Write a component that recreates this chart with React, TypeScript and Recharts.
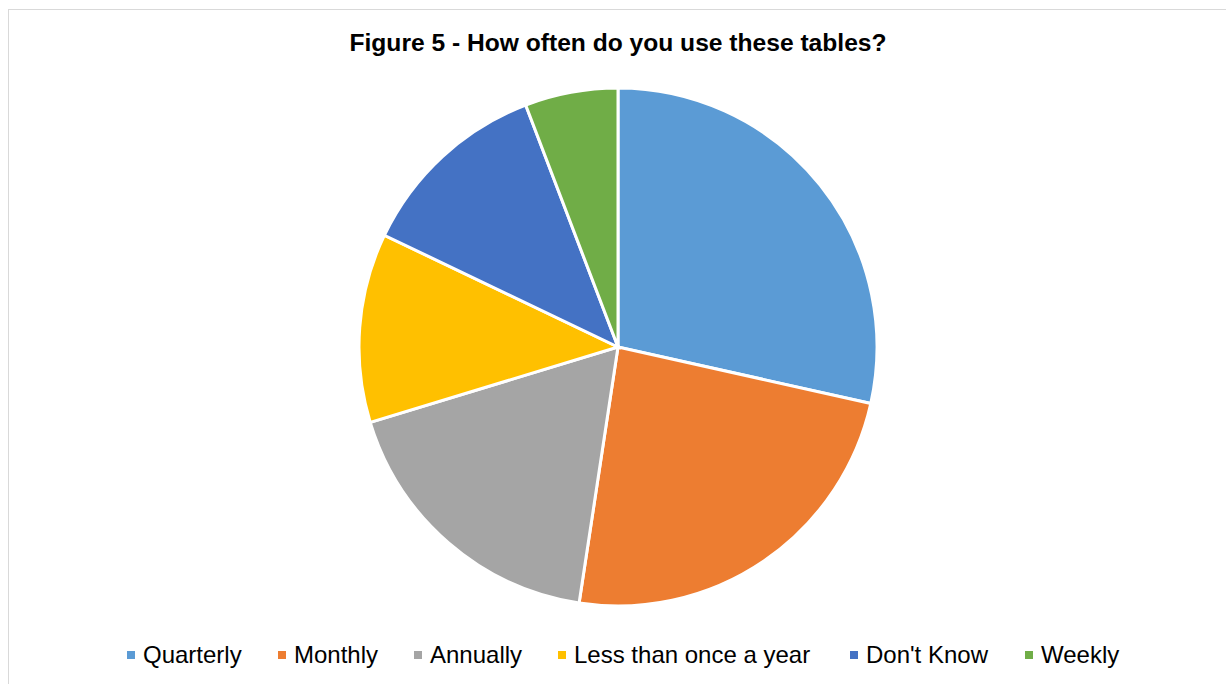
import React from "react";
import { PieChart, Pie, Cell, Legend } from "recharts";

const categories = ["Quarterly", "Monthly", "Annually", "Less than once a year", "Don't Know", "Weekly"];
const shares = [28.5, 23.9, 17.9, 11.8, 12.1, 5.8];
const colors = ["#5B9BD5", "#ED7D31", "#A5A5A5", "#FFC000", "#4472C4", "#70AD47"];
// left edge of each legend marker
const legendX = [127, 278, 414, 558, 850, 1025];

const data = categories.map((name, i) => ({ name, value: shares[i] }));

const font = "'Liberation Sans', Arial, sans-serif";

function renderLegend() {
  return (
    <div style={{ position: "relative", width: 1226, height: 28, fontFamily: font, fontSize: 24, color: "#000" }}>
      {categories.map((name, i) => (
        <div key={name} style={{ position: "absolute", left: legendX[i], top: 0, display: "flex", alignItems: "center", whiteSpace: "nowrap" }}>
          <span style={{ width: 8, height: 8, background: colors[i], display: "inline-block", marginRight: 8 }} />
          <span style={{ lineHeight: "28px" }}>{name}</span>
        </div>
      ))}
    </div>
  );
}

export default function App() {
  return (
    <div style={{ position: "absolute", left: 0, top: 0, width: 1226, height: 684, background: "#fff", overflow: "hidden" }}>
      <svg width={1226} height={684} style={{ position: "absolute", left: 0, top: 0 }}>
        <rect x={8.5} y={9.5} width={1240} height={700} fill="#fff" stroke="#D9D9D9" strokeWidth={1} />
        <text x={618} y={51} textAnchor="middle" fontFamily={font} fontSize={24.6} fontWeight="bold" fill="#000">
          Figure 5 - How often do you use these tables?
        </text>
      </svg>
      <div style={{ position: "absolute", left: 0, top: 0 }}>
        <PieChart width={1226} height={684} margin={{ top: 0, right: 0, bottom: 0, left: 0 }}>
          <Pie
            data={data}
            dataKey="value"
            nameKey="name"
            cx={618}
            cy={347}
            outerRadius={259}
            startAngle={90}
            endAngle={-270}
            stroke="#fff"
            strokeWidth={3}
            isAnimationActive={false}
          >
            {data.map((d, i) => (
              <Cell key={d.name} fill={colors[i]} />
            ))}
          </Pie>
          <Legend content={renderLegend} wrapperStyle={{ position: "absolute", left: 0, top: 641, width: 1226 }} />
        </PieChart>
      </div>
    </div>
  );
}
